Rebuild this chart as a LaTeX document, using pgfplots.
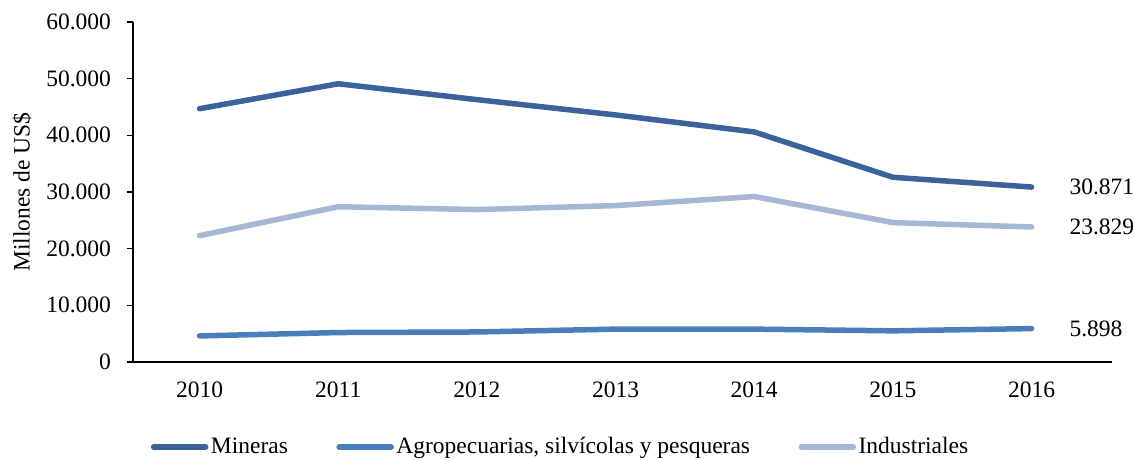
\documentclass[border=0pt]{standalone}
\usepackage{fontspec}
\setmainfont{Liberation Serif}
\usepackage{pgfplots}
\pgfplotsset{compat=1.18}
\definecolor{cmin}{RGB}{59,99,155}
\definecolor{cagr}{RGB}{74,126,187}
\definecolor{cind}{RGB}{166,182,213}
\begin{document}
\fontsize{23.5bp}{28bp}\selectfont
\begin{tikzpicture}[font=\fontsize{23.5bp}{28bp}\selectfont]
\useasboundingbox (-133bp,-98bp) rectangle (1001bp,362bp);
\begin{axis}[
  scale only axis,
  width=979bp, height=340bp,
  xmin=2009.52, xmax=2016.58,
  ymin=0, ymax=60000,
  ytick={0,10000,...,60000},
  scaled y ticks=false,
  xtick={2010,2011,2012,2013,2014,2015,2016},
  xticklabels={2010,2011,2012,2013,2014,2015,2016},
  axis x line*=bottom, axis y line*=left,
  axis line style={line width=1.2bp, black, -},
  xtick style={draw=none},
  ytick style={line width=1.2bp, black},
  tick align=outside,
  major tick length=6bp,
  /pgf/number format/.cd, fixed, 1000 sep={.}, assume math mode=true,
  /pgfplots/.cd,
  tick label style={font=\fontsize{23.5bp}{28bp}\selectfont},
  yticklabel style={xshift=-8bp},
  xticklabel style={yshift=-6bp},
  ylabel={Millones de US\$},
  ylabel style={font=\fontsize{24.5bp}{29bp}\selectfont},
  every axis y label/.style={at={(-111bp,170bp)}, rotate=90, anchor=center},
  clip=false,
  legend columns=3,
  legend style={at={(0.437,-0.25)}, anchor=center, draw=none, fill=none,
    font=\fontsize{23.5bp}{28bp}\selectfont,
    /tikz/every even column/.append style={column sep=46bp},
    inner sep=0pt, nodes={inner sep=2.5bp}},
  legend image code/.code={\draw[#1, line width=5.5bp, line cap=round] (0bp,0bp) -- (52bp,0bp);},
  every axis plot/.append style={line width=5.5bp, line cap=round, line join=round},
]
\addplot[cmin] coordinates {(2010,44700) (2011,49100) (2012,46300) (2013,43600) (2014,40600) (2015,32600) (2016,30871)};
\addlegendentry{Mineras}
\addplot[cagr] coordinates {(2010,4600) (2011,5200) (2012,5300) (2013,5800) (2014,5800) (2015,5500) (2016,5898)};
\addlegendentry{Agropecuarias, silvícolas y pesqueras}
\addplot[cind] coordinates {(2010,22300) (2011,27400) (2012,26900) (2013,27600) (2014,29200) (2015,24600) (2016,23829)};
\addlegendentry{Industriales}
\node[anchor=west, xshift=30bp] at (axis cs:2016,30871) {30.871};
\node[anchor=west, xshift=30bp] at (axis cs:2016,23829) {23.829};
\node[anchor=west, xshift=30bp] at (axis cs:2016,5898) {5.898};
\end{axis}
\end{tikzpicture}
\end{document}
